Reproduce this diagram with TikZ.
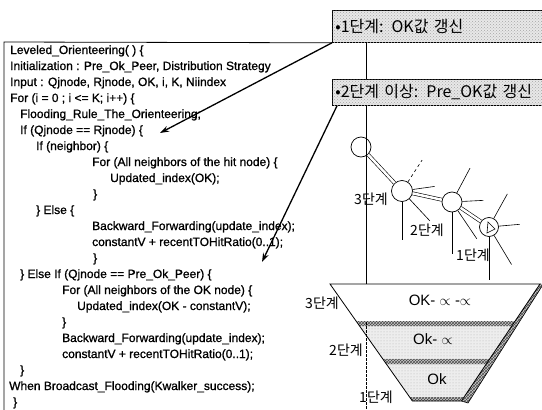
\documentclass[tikz,border=0pt]{standalone}
\usepackage{fontspec}
\setmainfont{Liberation Sans}
\newfontfamily\codefont{Liberation Sans}[FakeBold=1]
\newfontfamily\kofont{Noto Sans CJK KR}
\usepackage{tikz}
\usetikzlibrary{arrows.meta, patterns, calc}

\begin{document}
\begin{tikzpicture}[x=1pt, y=-1pt,
				codeline/.style={anchor=base west, inner sep=0pt, font=\codefont\fontsize{12}{14}\selectfont},
				stagebox/.style={rectangle, draw=black, line width=0.8pt, anchor=north west, minimum width=220pt, text width=214pt, align=left, inner xsep=2pt, font=\kofont\fontsize{16}{18}\selectfont, fill=gray!18, postaction={pattern=crosshatch dots, pattern color=gray!70}},
				levellabel/.style={font=\kofont\fontsize{14}{16}\selectfont, inner sep=0pt},
				peer/.style={circle, draw, line width=0.7pt, inner sep=0pt},
				pipe/.style={double, double distance=2.5pt, line width=0.6pt},
				spoke/.style={line width=0.6pt},
				callout/.style={line width=1.3pt, -{Stealth[length=9pt, width=6pt]}},
				stipple/.style={fill=gray!14, postaction={pattern=dots, pattern color=gray!60}},
				hatchband/.style={fill=gray!40, postaction={pattern=crosshatch, pattern color=black!70}},
				valtext/.style={font=\fontsize{15}{17}\selectfont, inner sep=0pt}
				]
				\useasboundingbox (0,0) rectangle (542,410);
				
				% Update rule boxes
				\node[stagebox, minimum height=32pt] (box1) at (332,10) {•1단계: OK값 갱신};
				\node[stagebox, minimum height=26pt] (box2) at (332,79) {•2단계 이상: Pre\_OK값 갱신};
				
				% Pseudo code
				\coordinate (codetop) at (4,42);
				\coordinate (codebot) at (4,410);
				\draw[line width=0.8pt] (codebot) -- (codetop) -- (box1.south west);
				\node[codeline] (l1) at (10,54) {Leveled\_Orienteering( ) \{};
				\node[codeline] (l2) at (10,70) {Initialization : Pre\_Ok\_Peer, Distribution Strategy};
				\node[codeline] (l3) at (10,86) {Input : Qjnode, Rjnode, OK, i, K, Niindex};
				\node[codeline] (l4) at (10,102) {For (i = 0 ; i <= K; i++) \{};
				\node[codeline] (l5) at (20,118) {Flooding\_Rule\_The\_Orienteering;};
				\node[codeline] (l6) at (20,134) {If (Qjnode == Rjnode) \{};
				\node[codeline] (l7) at (36,150) {If (neighbor) \{};
				\node[codeline] (l8) at (92,166) {For (All neighbors of the hit node) \{};
				\node[codeline] (l9) at (110,182) {Updated\_index(OK);};
				\node[codeline] (l10) at (93,198) {\}};
				\node[codeline] (l11) at (36,214) {\} Else \{};
				\node[codeline] (l12) at (92,230) {Backward\_Forwarding(update\_index);};
				\node[codeline] (l13) at (92,246) {constantV + recentTOHitRatio(0..1);};
				\node[codeline] (l14) at (93,262) {\}};
				\node[codeline] (l15) at (20,278) {\} Else If (Qjnode == Pre\_Ok\_Peer) \{};
				\node[codeline] (l16) at (62,294) {For (All neighbors of the OK node) \{};
				\node[codeline] (l17) at (77,310) {Updated\_index(OK - constantV);};
				\node[codeline] (l18) at (62,326) {\}};
				\node[codeline] (l19) at (62,342) {Backward\_Forwarding(update\_index);};
				\node[codeline] (l20) at (62,358) {constantV + recentTOHitRatio(0..1);};
				\node[codeline] (l21) at (20,374) {\}};
				\node[codeline] (l22) at (9,390) {When Broadcast\_Flooding(Kwalker\_success);};
				\node[codeline] (l23) at (13,406) {\}};
				
				% Callout arrows
				\coordinate (hitpt) at (160,133);
				\coordinate (okpt) at (262,262);
				\draw[callout] (box1.south west) -- (hitpt);
				\draw[callout] ([xshift=5pt]box2.south west) -- (okpt);
				
				% Funnel corners
				\coordinate (ftl) at (330,284);
				\coordinate (ftr) at (540,284);
				\coordinate (spine) at (366,0);
				\draw (box1.south -| spine) -- (box2.north -| spine);
				\draw (box2.south -| spine) -- (ftl -| spine);
				
				% Peers along the path
				\node[peer, minimum size=20pt] (pa) at (361,147) {};
				\node[peer, minimum size=21pt] (pb) at (402,191) {};
				\node[peer, minimum size=20pt] (pc) at (452,202) {};
				\node[peer, minimum size=19pt] (pd) at (489,227) {};
				\draw[pipe] (pa) -- (pb);
				\draw[pipe] (pb) -- (pc);
				\draw[pipe] (pc) -- (pd);
				\draw[spoke, dashed] (pb.57) -- ++(57:26pt);
				\draw[spoke] (pb.8) -- ++(8:22pt);
				\draw[spoke] (pb.-47) -- ++(-47:30pt);
				\draw[spoke] (pc.62) -- ++(62:28pt);
				\draw[spoke] (pc.3) -- ++(3:21pt);
				\draw[spoke] (pc.-56) -- ++(-56:34pt);
				\draw[spoke] (pd.61) -- ++(61:28pt);
				\draw[spoke] (pd.5) -- ++(5:21pt);
				\draw[spoke] (pd.-59) -- ++(-59:34pt);
				\draw[spoke] ($(pd.center)+(-2,6)$) -- ($(pd.center)+(-1,-5)$) -- ($(pd.center)+(6,2)$) -- cycle;
				\draw[spoke] (pb.south) -- ++(0,38);
				\draw[spoke] (pc.south) -- ++(0,42);
				\draw[spoke] (pd.south) -- ++(0,43);
				\node[levellabel] (s3) at (371,199) {3단계};
				\node[levellabel] (s2) at (427,230) {2단계};
				\node[levellabel] (s1) at (473,255) {1단계};
				
				% Funnel bands
				\path[stipple] (359.6,326) -- (511.8,326) -- (489.6,359) -- (382.8,359) -- cycle;
				\path[stipple] (386.3,364) -- (486.2,364) -- (464,397) -- (409.6,397) -- cycle;
				\path[hatchband] (356,321) -- (515.1,321) -- (511.8,326) -- (359.6,326) -- cycle;
				\path[hatchband] (382.8,359) -- (489.6,359) -- (486.2,364) -- (386.3,364) -- cycle;
				\path[hatchband] (409.6,397) -- (464,397) -- (461.4,401) -- (412.4,401) -- cycle;
				\path[hatchband] (ftr) -- (544,283) -- (468,403) -- (461.4,401) -- cycle;
				\draw[line width=0.8pt] (ftl) -- (ftr) -- (461.4,401) -- (412.4,401) -- cycle;
				\draw[line width=0.6pt] (544,283) -- (468,403) -- (461.4,401);
				\node[valtext] (v3) at (440,300) {OK- $\propto$ -$\propto$};
				\node[valtext] (v2) at (433,339) {Ok- $\propto$};
				\node[valtext] (v1) at (437,379) {Ok};
				\node[levellabel] (f3) at (322,303) {3단계};
				\node[levellabel] (f2) at (346,350) {2단계};
				\node[levellabel] (f1) at (376,397) {1단계};
				\draw[dash pattern=on 3pt off 1pt] (ftl -| spine) ++(0,38) -- (spine |- codebot);
			\end{tikzpicture}
\end{document}
